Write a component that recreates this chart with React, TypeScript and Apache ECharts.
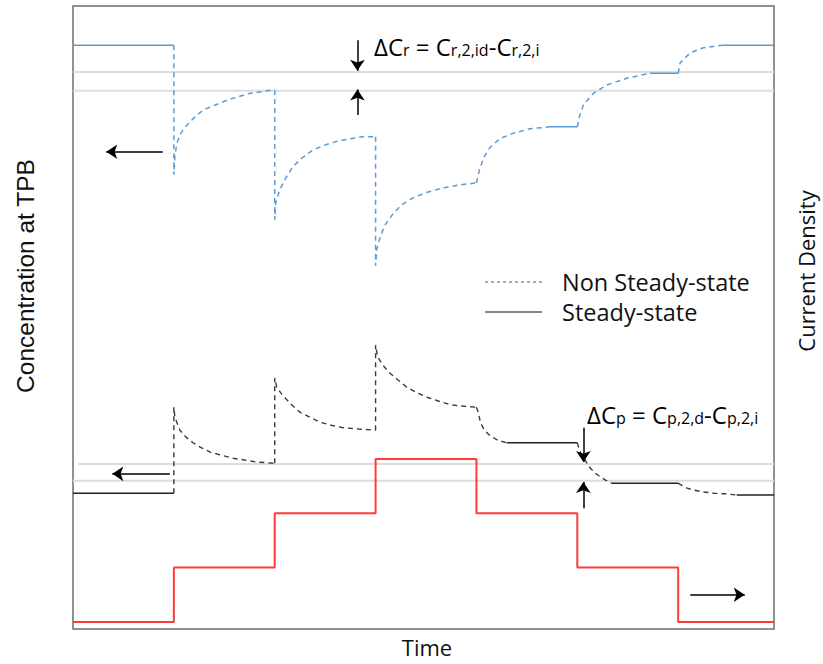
import React, { useEffect, useRef } from "react";
import * as echarts from "echarts";

// Time axis: one unit per current step
const timeMax = 6.95;

// Current density steps (right axis), value held from each time to the next
const currentTimes = [0, 1, 2, 3, 4, 5, 6, 6.95];
const currentLevels = [0, 1, 2, 3, 2, 1, 0, 0];

// Reactant concentration at TPB: steady segments and transients
const reactantSteady: number[][][] = [
  [[0, 93.7], [1, 93.7]],
  [[4.73, 80.6], [5, 80.6]],
  [[5.72, 89.2], [6, 89.2]],
  [[6.44, 93.7], [6.95, 93.7]],
];
const reactantTransient: number[][][] = [
  [[1, 93.7], [1, 72.9], [1.01, 75.8], [1.03, 78.0], [1.07, 79.6], [1.13, 80.9], [1.21, 82.2], [1.29, 83.3], [1.41, 84.1], [1.53, 84.9], [1.73, 85.9], [1.85, 86.2], [1.97, 86.5], [2, 86.5]],
  [[2, 86.5], [2, 65.7], [2.01, 68.4], [2.05, 70.5], [2.11, 72.4], [2.18, 74.2], [2.27, 75.6], [2.38, 76.9], [2.5, 77.7], [2.62, 78.3], [2.75, 78.7], [2.87, 79.0], [3, 79.0]],
  [[3, 79.0], [3, 58.3], [3.01, 60.8], [3.05, 63.2], [3.1, 65.0], [3.17, 66.6], [3.26, 68.1], [3.37, 69.2], [3.51, 70.1], [3.67, 70.8], [3.84, 71.3], [4, 71.6]],
  [[4, 71.6], [4.03, 73.7], [4.07, 75.6], [4.13, 77.2], [4.23, 78.7], [4.37, 79.6], [4.53, 80.3], [4.73, 80.6]],
  [[5, 80.6], [5.02, 82.2], [5.06, 84.1], [5.16, 86.0], [5.29, 87.3], [5.49, 88.4], [5.72, 89.2]],
  [[6, 89.2], [6.02, 90.9], [6.12, 92.5], [6.25, 93.3], [6.44, 93.7]],
];

// Product concentration at TPB: steady segments and transients
const productSteady: number[][][] = [
  [[0, 21.8], [1, 21.8]],
  [[4.3, 29.9], [5, 29.9]],
  [[5.34, 23.4], [6, 23.4]],
  [[6.58, 21.5], [6.95, 21.5]],
];
const productTransient: number[][][] = [
  [[1, 21.8], [1, 35.6], [1.01, 34.0], [1.06, 31.9], [1.12, 30.8], [1.19, 29.9], [1.27, 29.1], [1.36, 28.4], [1.47, 27.9], [1.59, 27.4], [1.71, 27.1], [1.82, 26.8], [2, 26.6]],
  [[2, 26.6], [2, 40.3], [2.02, 38.8], [2.07, 37.7], [2.12, 36.8], [2.18, 35.8], [2.25, 34.8], [2.35, 34.0], [2.45, 33.2], [2.56, 32.7], [2.68, 32.3], [2.83, 32.1], [3, 31.9]],
  [[3, 31.9], [3, 45.6], [3.02, 43.7], [3.07, 42.4], [3.14, 41.1], [3.22, 40.0], [3.31, 38.8], [3.4, 38.0], [3.51, 37.2], [3.62, 36.6], [3.74, 36.0], [3.84, 35.8], [4, 35.6]],
  [[4, 35.6], [4.02, 34.7], [4.04, 33.1], [4.08, 31.9], [4.13, 31.1], [4.21, 30.3], [4.3, 29.9]],
  [[5, 29.9], [5.02, 28.7], [5.05, 27.9], [5.09, 26.8], [5.13, 25.8], [5.18, 25.0], [5.23, 24.4], [5.28, 23.9], [5.34, 23.4]],
  [[6, 23.4], [6.04, 23.0], [6.09, 22.6], [6.15, 22.3], [6.25, 22.0], [6.35, 21.8], [6.46, 21.7], [6.58, 21.5]],
];

// Light reference levels for the concentration differences
const guideLines: number[][][] = [
  [[0, 89.4], [6.95, 89.4]],
  [[0, 86.4], [6.95, 86.4]],
  [[0.05, 26.5], [6.95, 26.5]],
  [[0, 23.8], [6.95, 23.8]],
];

// Arrows: [x1, y1, x2, y2], head at the second point
const arrows: number[][] = [
  [0.89, 76.6, 0.33, 76.6],
  [0.96, 24.9, 0.39, 24.9],
  [6.12, 5.5, 6.66, 5.5],
  [2.82, 94.5, 2.82, 89.6],
  [2.82, 82.5, 2.82, 86.6],
  [5.06, 32.3, 5.06, 26.8],
  [5.06, 19.4, 5.06, 23.6],
];

const legendLabels = ["Non Steady-state", "Steady-state"];
const axisTitles = { x: "Time", left: "Concentration at TPB", right: "Current Density" };

const FONT = "'Open Sans', sans-serif";
const BLUE = "#5b9bd5";
const DARK = "#3a3a3a";
const RED = "#ff3b3b";
const INK = "#111";

export default function App() {
  const ref = useRef<HTMLDivElement>(null);

  useEffect(() => {
    if (!ref.current) return;
    const chart = echarts.init(ref.current, undefined, { renderer: "svg" });

    const lineSeries = (
      segs: number[][][],
      color: string,
      width: number,
      dash?: number[]
    ) =>
      segs.map((seg) => ({
        type: "line",
        data: seg,
        symbol: "none",
        silent: true,
        lineStyle: { color, width, type: dash ? dash : "solid" },
        z: 3,
      }));

    const subRich = (main: number, sub: number) => ({
      m: { fontFamily: FONT, fontSize: main, color: INK, lineHeight: 30, verticalAlign: "bottom" },
      s: { fontFamily: FONT, fontSize: sub, color: INK, lineHeight: 14, verticalAlign: "bottom" },
    });

    const hiddenAxis = {
      axisLine: { show: false },
      axisTick: { show: false },
      axisLabel: { show: false },
      splitLine: { show: false },
    };

    const option: any = {
      animation: false,
      grid: {
        left: 73,
        right: 49,
        top: 6,
        bottom: 35,
        outerBoundsMode: "none",
        show: true,
        borderColor: "#6e6e6e",
        borderWidth: 1.5,
        backgroundColor: "transparent",
      },
      xAxis: { type: "value", min: 0, max: timeMax, ...hiddenAxis },
      yAxis: [
        { type: "value", min: 0, max: 100, ...hiddenAxis },
        { type: "value", position: "right", min: -0.13, max: 11.34, ...hiddenAxis },
      ],
      series: [
        ...guideLines.map((seg) => ({
          type: "line",
          data: seg,
          symbol: "none",
          silent: true,
          lineStyle: { color: "#dcdcdc", width: 2 },
          z: 1,
        })),
        ...lineSeries(reactantTransient, BLUE, 1.5, [5, 4]),
        ...lineSeries(reactantSteady, BLUE, 1.5),
        ...lineSeries(productTransient, DARK, 1.4, [5, 4]),
        ...lineSeries(productSteady, "#222", 1.4),
        {
          type: "line",
          yAxisIndex: 1,
          step: "end",
          data: currentTimes.map((t, i) => [t, currentLevels[i]]),
          symbol: "none",
          silent: true,
          lineStyle: { color: RED, width: 2 },
          z: 4,
        },
        {
          type: "line",
          data: [],
          silent: true,
          markLine: {
            silent: true,
            symbol: ["none", "arrow"],
            symbolSize: 11,
            label: { show: false },
            lineStyle: { color: "#000", width: 1.5, type: "solid" },
            itemStyle: { color: "#000" },
            data: arrows.map((a) => [{ coord: [a[0], a[1]] }, { coord: [a[2], a[3]] }]),
          },
        },
      ],
      graphic: [
        {
          type: "line",
          shape: { x1: 485, y1: 282, x2: 542, y2: 282 },
          style: { stroke: "#555", lineWidth: 1, lineDash: [3, 3] },
        },
        {
          type: "line",
          shape: { x1: 485, y1: 312, x2: 542, y2: 312 },
          style: { stroke: INK, lineWidth: 1.2 },
        },
        {
          type: "text",
          x: 562,
          y: 282,
          style: { text: legendLabels[0], font: `23.5px ${FONT}`, fill: INK, textVerticalAlign: "middle" },
        },
        {
          type: "text",
          x: 562,
          y: 312,
          style: { text: legendLabels[1], font: `23.5px ${FONT}`, fill: INK, textVerticalAlign: "middle" },
        },
        {
          type: "text",
          x: 427,
          y: 647,
          style: { text: axisTitles.x, font: `22px ${FONT}`, fill: INK, textAlign: "center", textVerticalAlign: "middle" },
        },
        {
          type: "text",
          x: 25,
          y: 276,
          rotation: Math.PI / 2,
          style: {
            text: axisTitles.left,
            font: "24.5px 'Liberation Sans', Arial, sans-serif",
            fill: INK,
            textAlign: "center",
            textVerticalAlign: "middle",
          },
        },
        {
          type: "text",
          x: 806,
          y: 271,
          rotation: Math.PI / 2,
          style: { text: axisTitles.right, font: `22px ${FONT}`, fill: INK, textAlign: "center", textVerticalAlign: "middle" },
        },
        {
          type: "text",
          x: 374,
          y: 28,
          style: { text: "{m|ΔC}{s|r}{m| = C}{s|r,2,id}{m|-C}{s|r,2,i}", rich: subRich(24, 16) },
        },
        {
          type: "text",
          x: 587,
          y: 396,
          style: { text: "{m|ΔC}{s|p}{m| = C}{s|p,2,d}{m|-C}{s|p,2,i}", rich: subRich(24, 16) },
        },
      ],
    };

    chart.setOption(option);
    return () => chart.dispose();
  }, []);

  return (
    <div
      ref={ref}
      style={{ position: "fixed", left: 0, top: 0, width: 823, height: 664, background: "#fff" }}
    />
  );
}
